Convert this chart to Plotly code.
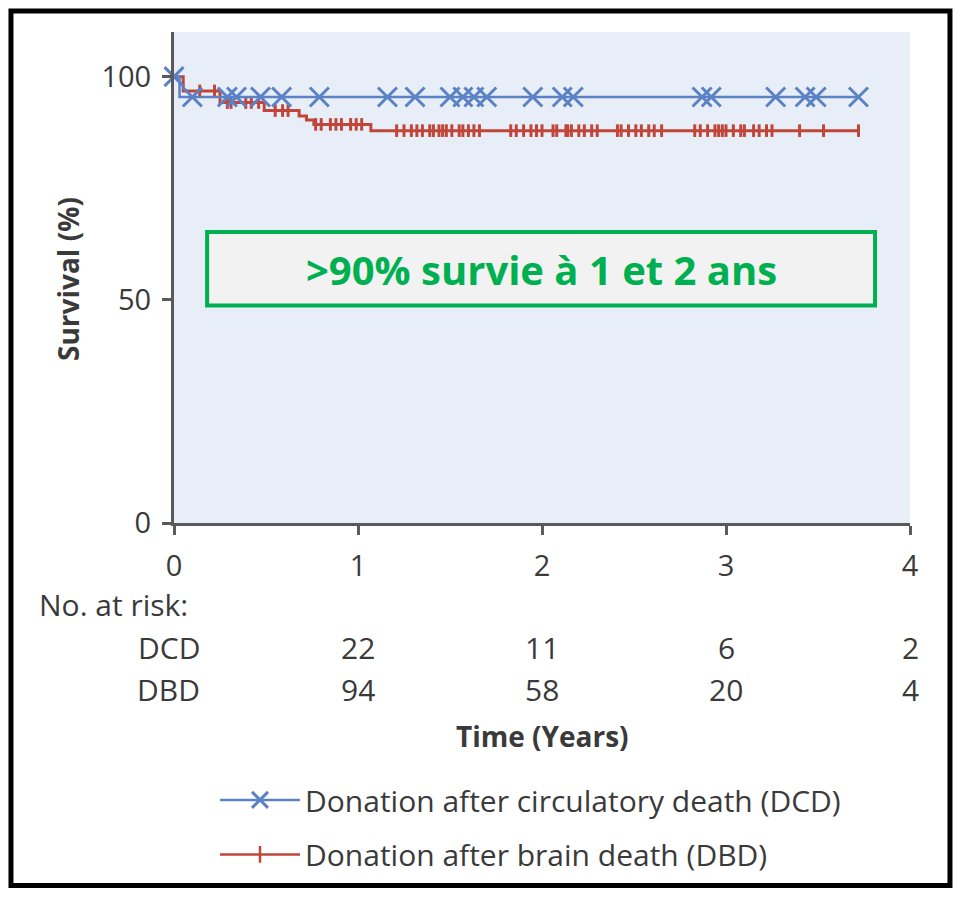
import numpy as np
import plotly.graph_objects as go

# ---------------- data ----------------
dcd_time = [0, 0.03, 3.72]
dcd_surv = [100, 95.45, 95.45]
dcd_censor = [0, 0.10, 0.29, 0.34, 0.47, 0.585, 0.79, 1.16, 1.31, 1.50, 1.57, 1.63, 1.70,
              1.95, 2.11, 2.17, 2.87, 2.92, 3.27, 3.43, 3.49, 3.72]

dbd_time = [0, 0.05, 0.25, 0.49, 0.68, 0.72, 0.76, 1.07, 3.72]
dbd_surv = [100, 96.8, 94.2, 92.4, 91.2, 90.3, 89.3, 87.9, 87.9]
dbd_censor = [0.14, 0.22, 0.29, 0.31, 0.39, 0.42, 0.46, 0.55, 0.59, 0.62, 0.77, 0.80, 0.85,
              0.88, 0.91, 0.96, 0.99, 1.02, 1.21, 1.25, 1.29, 1.32, 1.35, 1.39, 1.41, 1.44,
              1.46, 1.48, 1.51, 1.55, 1.57, 1.60, 1.63, 1.66, 1.83, 1.86, 1.90, 1.94, 1.97,
              2.00, 2.06, 2.08, 2.13, 2.14, 2.16, 2.20, 2.23, 2.27, 2.30, 2.41, 2.43, 2.47,
              2.51, 2.54, 2.58, 2.61, 2.65, 2.83, 2.86, 2.90, 2.94, 2.96, 2.98, 3.00, 3.04,
              3.08, 3.10, 3.15, 3.18, 3.22, 3.25, 3.40, 3.53, 3.72]

risk_years = [1, 2, 3, 4]
risk_dcd = [22, 11, 6, 2]
risk_dbd = [94, 58, 20, 4]

x_ticks = [0, 1, 2, 3, 4]
y_ticks = [0, 50, 100]

legend_dcd = "Donation after circulatory death (DCD)"
legend_dbd = "Donation after brain death (DBD)"
box_text = ">90% survie à 1 et 2 ans"

# ---------------- style ----------------
BLUE = "#5b82c4"
RED = "#c0463a"
GREEN = "#00b050"
TXT = "#3a3a3a"
AX = "#5a5a5a"
FONT = "Open Sans"
FS = 29


def step_at(times, survs, ts):
    idx = np.searchsorted(np.array(times), np.array(ts), side="right") - 1
    idx = np.clip(idx, 0, len(survs) - 1)
    return [survs[i] for i in idx]


fig = go.Figure()

fig.add_trace(go.Scatter(x=dbd_time, y=dbd_surv, mode="lines", line=dict(color=RED, width=3, shape="hv"),
                         showlegend=False, hoverinfo="skip"))
fig.add_trace(go.Scatter(x=dbd_censor, y=step_at(dbd_time, dbd_surv, dbd_censor), mode="markers",
                         marker=dict(symbol="line-ns", size=9, color=RED, line=dict(color=RED, width=3)),
                         showlegend=False, hoverinfo="skip", cliponaxis=False))
fig.add_trace(go.Scatter(x=dcd_time, y=dcd_surv, mode="lines", line=dict(color=BLUE, width=2.5, shape="hv"),
                         showlegend=False, hoverinfo="skip"))
fig.add_trace(go.Scatter(x=dcd_censor, y=step_at(dcd_time, dcd_surv, dcd_censor), mode="markers",
                         marker=dict(symbol="x-thin", size=19, color=BLUE, line=dict(color=BLUE, width=3)),
                         showlegend=False, hoverinfo="skip", cliponaxis=False))

# legend proxies
fig.add_trace(go.Scatter(x=[None], y=[None], mode="lines+markers", name=legend_dcd,
                         line=dict(color=BLUE, width=2.5),
                         marker=dict(symbol="x-thin", size=18, color=BLUE, line=dict(color=BLUE, width=3)),
                         legend="legend"))
fig.add_trace(go.Scatter(x=[None], y=[None], mode="lines+markers", name=legend_dbd,
                         line=dict(color=RED, width=2.5),
                         marker=dict(symbol="line-ns", size=12, color=RED, line=dict(color=RED, width=2.5)),
                         legend="legend2"))

annotations = []
# y-axis title
annotations.append(dict(text="<b>Survival (%)</b>", xref="paper", yref="paper", x=-0.144, y=0.497,
                        textangle=-90, showarrow=False, font=dict(family=FONT, size=28, color=TXT),
                        xanchor="center", yanchor="middle"))
# box text
annotations.append(dict(text="<b>" + box_text + "</b>", xref="x", yref="y", x=1.995, y=56.9,
                        showarrow=False, font=dict(family=FONT, size=40, color=GREEN),
                        xanchor="center", yanchor="middle"))
# risk table
annotations.append(dict(text="No. at risk:", xref="paper", yref="paper", x=-0.186, y=-0.166,
                        xanchor="left", yanchor="middle", showarrow=False,
                        font=dict(family=FONT, size=30, color=TXT)))
for label, vals, yp in [("DCD", risk_dcd, -0.2535), ("DBD", risk_dbd, -0.3387)]:
    annotations.append(dict(text=label, xref="x", yref="paper", x=0.152, y=yp, xanchor="right",
                            yanchor="middle", showarrow=False, font=dict(family=FONT, size=30, color=TXT)))
    for yr, v in zip(risk_years, vals):
        annotations.append(dict(text=str(v), xref="x", yref="paper", x=yr, y=yp, xanchor="center",
                                yanchor="middle", showarrow=False, font=dict(family=FONT, size=30, color=TXT)))
annotations.append(dict(text="<b>Time (Years)</b>", xref="x", yref="paper", x=2, y=-0.433,
                        xanchor="center", yanchor="middle", showarrow=False,
                        font=dict(family=FONT, size=28, color=TXT)))

shapes = [
    dict(type="rect", xref="x", yref="y", x0=0.18, x1=3.81, y0=48.7, y1=65.2,
         line=dict(color=GREEN, width=4), fillcolor="#f2f2f2", layer="above"),
    dict(type="rect", xref="paper", yref="paper", x0=-0.2215, x1=1.0543, y0=-0.7383, y1=1.0426,
         line=dict(color="black", width=5), layer="above"),
]

fig.update_layout(
    width=945, height=884,
    margin=dict(l=166, r=43, t=24, b=367),
    paper_bgcolor="white",
    plot_bgcolor="#e8eef7",
    font=dict(family=FONT, size=FS, color=TXT),
    xaxis=dict(range=[0, 4.0], tickvals=x_ticks, ticks="outside", ticklen=9, tickwidth=2.5,
               tickcolor=AX, showline=True, linecolor=AX, linewidth=3, showgrid=False, zeroline=False,
               tickfont=dict(family=FONT, size=FS, color=TXT), ticklabelstandoff=6, fixedrange=True),
    yaxis=dict(range=[0, 110], tickvals=y_ticks, ticks="outside", ticklen=9, tickwidth=2.5,
               tickcolor=AX, showline=True, linecolor=AX, linewidth=3, showgrid=False, zeroline=False,
               tickfont=dict(family=FONT, size=FS, color=TXT), ticklabelstandoff=5, fixedrange=True),
    legend=dict(x=0.0557, y=-0.564, xanchor="left", yanchor="middle", itemwidth=80,
                font=dict(family=FONT, size=30, color=TXT), bgcolor="rgba(0,0,0,0)"),
    legend2=dict(x=0.0557, y=-0.675, xanchor="left", yanchor="middle", itemwidth=80,
                 font=dict(family=FONT, size=30, color=TXT), bgcolor="rgba(0,0,0,0)"),
    annotations=annotations,
    shapes=shapes,
)

fig.write_html("out.html")
